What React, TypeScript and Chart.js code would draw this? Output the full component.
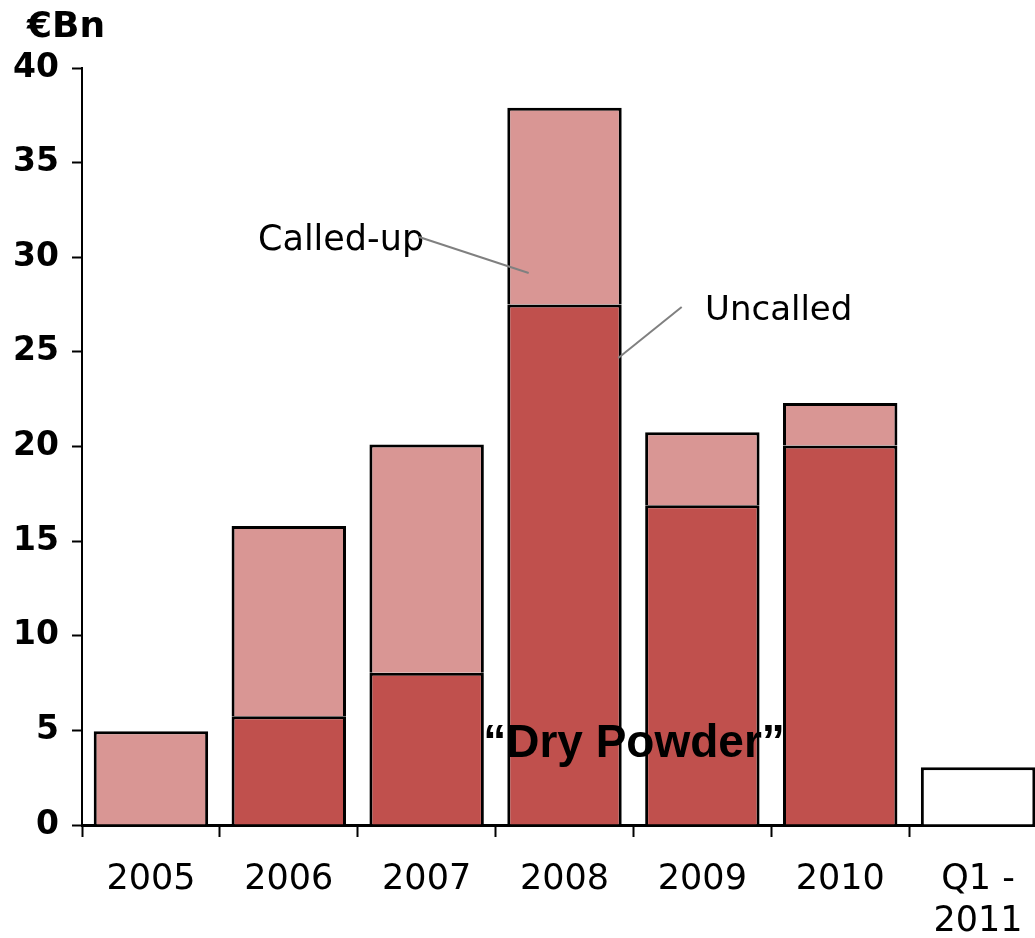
import React, { useEffect, useRef } from "react";
import { Chart, registerables } from "chart.js";

Chart.register(...registerables);

const categories: (string | string[])[] = ["2005", "2006", "2007", "2008", "2009", "2010", ["Q1 -", "2011"]];
const uncalled: (number | null)[] = [null, 5.75, 8.05, 27.5, 16.9, 20.05, null];
const calledUp: (number | null)[] = [4.95, 10.05, 12.05, 10.4, 3.85, 2.25, 3.05];
const yTicks = [0, 5, 10, 15, 20, 25, 30, 35, 40];

const DARK = "#C0504D";
const LIGHT = "#D99694";

const annotations = {
  unit: "€Bn",
  calledLabel: "Called-up",
  uncalledLabel: "Uncalled",
  dryPowder: "\u201CDry Powder\u201D",
};

const annotationPlugin = {
  id: "annots",
  afterDraw(chart: any) {
    const ctx = chart.ctx;
    const xs = chart.scales.x;
    const ys = chart.scales.y;
    ctx.save();
    ctx.fillStyle = "#000";
    ctx.textBaseline = "alphabetic";
    ctx.font = "bold 36px 'DejaVu Sans'";
    ctx.textAlign = "left";
    ctx.fillText(annotations.unit, 27, 37);

    ctx.font = "35px 'DejaVu Sans'";
    ctx.fillText(annotations.calledLabel, 258, 250);
    ctx.font = "34px 'DejaVu Sans'";
    ctx.fillText(annotations.uncalledLabel, 705, 320);

    // leader lines anchored to data coordinates
    ctx.strokeStyle = "#808080";
    ctx.lineWidth = 2;
    ctx.beginPath();
    ctx.moveTo(xs.getPixelForValue(1.945), ys.getPixelForValue(31.07));
    ctx.lineTo(xs.getPixelForValue(2.74), ys.getPixelForValue(29.17));
    ctx.stroke();
    ctx.beginPath();
    ctx.moveTo(xs.getPixelForValue(3.85), ys.getPixelForValue(27.37));
    ctx.lineTo(xs.getPixelForValue(3.39), ys.getPixelForValue(24.68));
    ctx.stroke();

    ctx.font = "bold 46px 'Liberation Sans'";
    ctx.textAlign = "center";
    ctx.fillText(annotations.dryPowder, 634, 757);
    ctx.restore();
  },
};

export default function App() {
  const ref = useRef<HTMLCanvasElement | null>(null);
  useEffect(() => {
    if (!ref.current) return;
    const chart = new Chart(ref.current, {
      type: "bar",
      data: {
        labels: categories as any,
        datasets: [
          {
            label: "Uncalled",
            data: uncalled,
            backgroundColor: DARK,
            borderColor: "#000",
            borderWidth: 3,
            borderSkipped: "bottom",
          },
          {
            label: "Called-up",
            data: calledUp,
            backgroundColor: calledUp.map((_, i) => (i === calledUp.length - 1 ? "#FFFFFF" : LIGHT)),
            borderColor: "#000",
            borderWidth: 3,
            borderSkipped: "bottom",
          },
        ],
      },
      options: {
        responsive: false,
        animation: false,
        layout: { padding: { top: 68, right: 1, left: 0, bottom: 0 } },
        plugins: { legend: { display: false }, tooltip: { enabled: false } },
        datasets: { bar: { categoryPercentage: 1, barPercentage: 0.83 } },
        scales: {
          x: {
            stacked: true,
            grid: {
              display: true,
              drawOnChartArea: false,
              drawTicks: true,
              offset: true,
              tickLength: 12,
              color: "#000",
              tickWidth: 2,
            },
            border: { display: true, color: "#000", width: 3 },
            ticks: {
              color: "#000",
              font: { family: "'DejaVu Sans'", size: 35 },
              padding: 22,
              maxRotation: 0,
              autoSkip: false,
            },
            afterFit(scale: any) {
              scale.height = 113;
            },
          },
          y: {
            stacked: true,
            min: 0,
            max: 40,
            afterBuildTicks(scale: any) {
              scale.ticks = yTicks.map((v) => ({ value: v }));
            },
            grid: {
              display: true,
              drawOnChartArea: false,
              drawTicks: true,
              tickLength: 10,
              color: "#000",
              tickWidth: 2,
            },
            border: { display: true, color: "#000", width: 2 },
            ticks: {
              color: "#000",
              font: { family: "'DejaVu Sans'", size: 33, weight: "bold" },
              padding: 13,
            },
            afterFit(scale: any) {
              scale.width = 82;
            },
          },
        },
      },
      plugins: [annotationPlugin],
    });
    return () => chart.destroy();
  }, []);

  return (
    <div style={{ position: "absolute", left: 0, top: 0, width: 1035, height: 938, overflow: "hidden", background: "#fff" }}>
      <canvas ref={ref} width={1048} height={938} style={{ display: "block" }} />
    </div>
  );
}
